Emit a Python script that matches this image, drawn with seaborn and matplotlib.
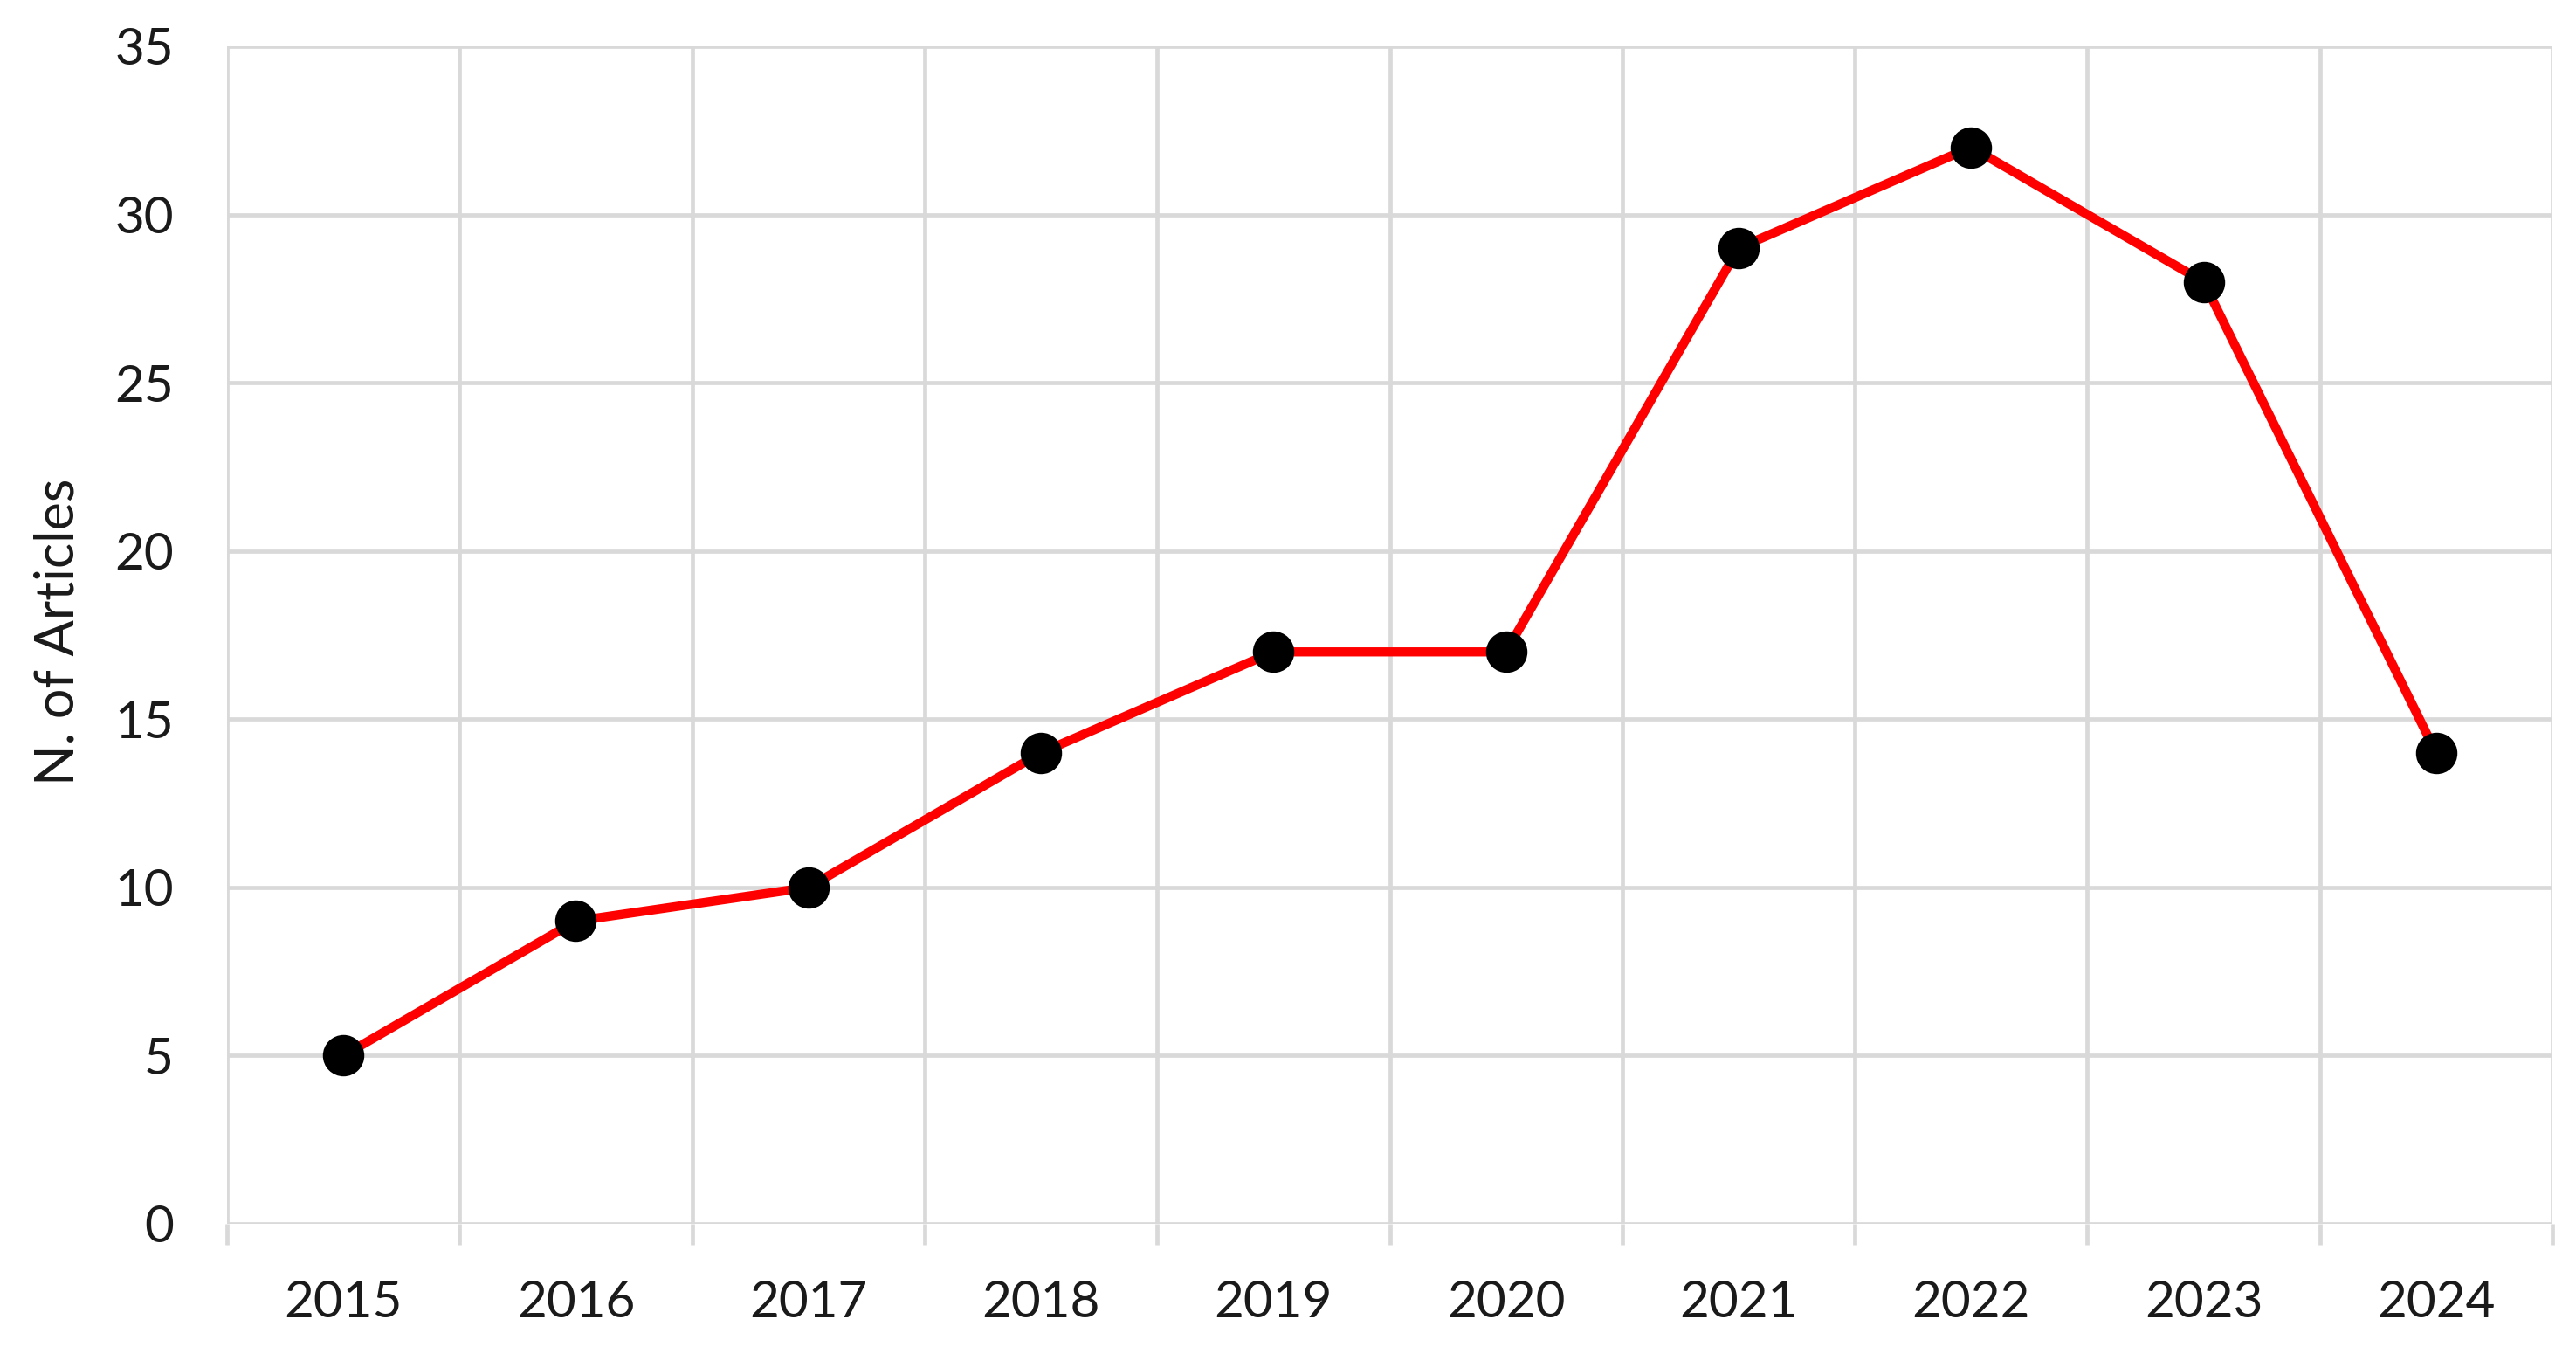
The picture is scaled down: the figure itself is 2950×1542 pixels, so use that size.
import matplotlib
matplotlib.use("Agg")
import matplotlib.pyplot as plt
import seaborn as sns
import numpy as np
import pandas as pd
from matplotlib.ticker import FixedLocator

years = ["2015", "2016", "2017", "2018", "2019", "2020", "2021", "2022", "2023", "2024"]
articles = [5, 9, 10, 14, 17, 17, 29, 32, 28, 14]
y_ticks = [0, 5, 10, 15, 20, 25, 30, 35]
y_label = "N. of Articles"

sns.set_theme(style="white")
plt.rcParams["font.family"] = ["Lato", "DejaVu Sans"]

df = pd.DataFrame({"year": years, "n": articles})

fig = plt.figure(figsize=(29.5, 15.42), dpi=100)
ax = fig.add_axes([260/2950, 1 - 1401/1542, (2923-260)/2950, (1401-53)/1542])

grid_c = "#d9d9d9"
sns.lineplot(data=df, x="year", y="n", color="#ff0000", linewidth=7.5, ax=ax, zorder=3, sort=False)
sns.scatterplot(data=df, x="year", y="n", color="black", s=1000, edgecolor="black", ax=ax, zorder=4)

ax.set_xlim(-0.5, len(years) - 0.5)
ax.set_ylim(0, 35)
ax.set_yticks(y_ticks)
ax.xaxis.set_minor_locator(FixedLocator(np.arange(-0.5, len(years), 1.0)))

for s in ax.spines.values():
    s.set_visible(False)

ax.grid(False)
ax.yaxis.grid(True, which="major", color=grid_c, linewidth=3.4, zorder=0)
ax.xaxis.grid(True, which="minor", color=grid_c, linewidth=3.4, zorder=0)
ax.set_axisbelow(True)

ax.tick_params(axis="x", which="major", length=0, pad=46, labelsize=42, labelcolor="#1a1a1a")
ax.tick_params(axis="x", which="minor", length=17, width=3.4, color=grid_c, bottom=True)
ax.tick_params(axis="y", which="major", length=0, pad=44, labelsize=42, labelcolor="#1a1a1a")

ax.set_xlabel("")
ax.set_ylabel(y_label, fontsize=44, color="#1a1a1a")
ax.yaxis.label.set_verticalalignment("center")
ax.yaxis.set_label_coords(-0.0725, 0.503)

fig.savefig("out.png", dpi=100, facecolor="white")
